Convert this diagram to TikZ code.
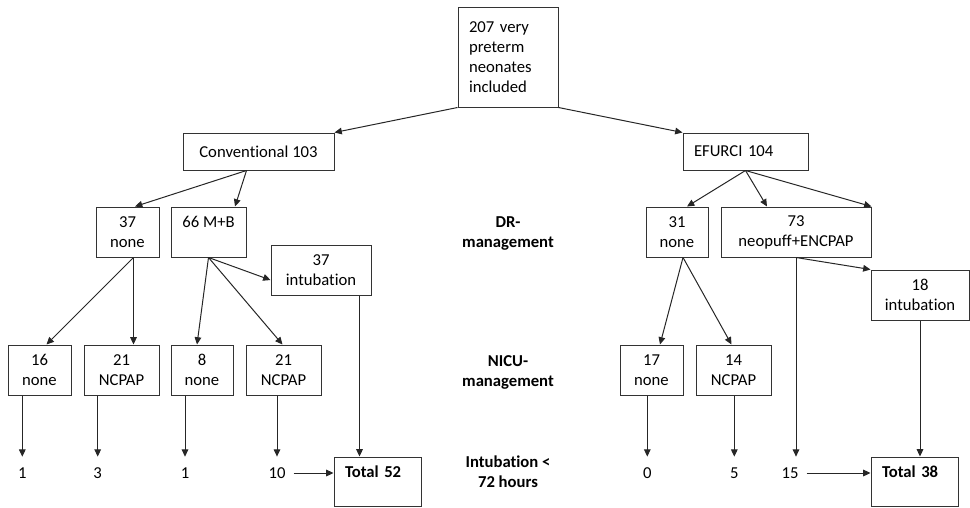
\documentclass[tikz,border=0pt]{standalone}
\usepackage{fontspec}
\setmainfont{Carlito}[Ligatures={NoCommon}]
\usepackage{tikz}
\usetikzlibrary{arrows.meta,positioning,calc}
\newdimen\unitpx \unitpx=0.75pt
\tikzstyle{box}=[rectangle,draw=black!80,line width=0.75pt,inner sep=0pt,
	align=center,font=\fontsize{12.5pt}{15pt}\selectfont]
\tikzstyle{leftbox}=[box,align=left,inner xsep=11\unitpx]
\tikzstyle{num}=[font=\fontsize{12.5pt}{15pt}\selectfont,inner xsep=6pt,inner ysep=8pt]
\tikzstyle{stage}=[font=\fontsize{12.5pt}{15pt}\selectfont\bfseries,align=center]
\tikzstyle{arr}=[-{Triangle[length=5.5pt,width=5pt]},line width=0.75pt,black!85]
\tikzset{dim/.style 2 args={minimum width=#1\unitpx,minimum height=#2\unitpx}}

\begin{document}
\begin{tikzpicture}[x=\unitpx,y=-\unitpx]
	\useasboundingbox (0,0) rectangle (970,507);

	% groups
	\node[leftbox,text width=78\unitpx,minimum height=100\unitpx] (incl) at (508,57) {207 very\\preterm\\neonates\\included};
	\node[box,dim={151}{37}] (conv) at (258.5,151.5) {Conventional 103};
	\node[leftbox,text width=103\unitpx,minimum height=37\unitpx] (efurci) at (745.5,151.5) {EFURCI 104};

	% DR management
	\node[box,dim={63}{50}] (c37none) at (127.5,232) {37\\none};
	\node[box,dim={75}{50}] (c66mb) at (208.5,232) {66 M+B\\\mbox{}};
	\node[box,dim={100}{50}] (c37int) at (321,270) {37\\intubation};
	\node[box,dim={62}{50}] (e31none) at (677,232) {31\\none};
	\node[box,dim={150}{50}] (e73) at (796,232) {73\\neopuff+ENCPAP};
	\node[box,dim={98}{50}] (e18int) at (920,295) {18\\intubation};

	% NICU management
	\node[box,dim={63}{50}] (c16none) at (39.5,370) {16\\none};
	\node[box,dim={75}{50}] (c21ncpap) at (121.5,370) {21\\NCPAP};
	\node[box,dim={62}{50}] (c8none) at (202,370) {8\\none};
	\node[box,dim={75}{50}] (c21ncpapb) at (283.5,370) {21\\NCPAP};
	\node[box,dim={63}{50}] (e17none) at (651.5,370) {17\\none};
	\node[box,dim={75}{50}] (e14ncpap) at (733.5,370) {14\\NCPAP};

	% intubation < 72 hours
	\node[num] (r1) at (22.3,473) {1};
	\node[num] (r3) at (97.7,473) {3};
	\node[num] (r1b) at (185,473) {1};
	\node[num] (r10) at (277,473) {10};
	\node[num] (r0) at (647.3,473) {0};
	\node[num] (r5) at (734.3,473) {5};
	\node[num] (r15) at (790,473) {15};
	\node[leftbox,text width=65\unitpx,minimum height=49\unitpx] (ctotal) at (377.5,481.5) {\textbf{Total 52}\\\mbox{}};
	\node[leftbox,text width=65\unitpx,minimum height=49\unitpx] (etotal) at (914.5,481.5) {\textbf{Total 38}\\\mbox{}};

	\node[stage] (dr) at (508,234) {DR-\\management};
	\node[stage] (nicu) at (508,372) {NICU-\\management};
	\node[stage] (intub) at (508,472) {Intubation <\\72 hours};

	\draw[arr] (incl.south west) -- (conv.north east);
	\draw[arr] (incl.south east) -- (efurci.north west);

	\coordinate (convout) at ($(conv.south)+(-12,0)$);
	\draw[arr] (convout) -- ($(c37none.north)+(7.5,0)$);
	\draw[arr] (convout) -- ($(c66mb.north)+(26.5,0)$);
	\coordinate (noneout) at ($(c37none.south)+(6,0)$);
	\draw[arr] (noneout) -- ($(c16none.north)+(7,0)$);
	\draw[arr] (noneout) -- ($(c21ncpap.north)+(12,0)$);
	\draw[arr] (c66mb.south) -- ($(c8none.north)+(-5,0)$);
	\draw[arr] (c66mb.south) -- ($(c21ncpapb.north)+(-1,0)$);
	\draw[arr] (c66mb.south) -- ($(c37int.west)+(0,10)$);
	\coordinate (intdrop) at ($(c37int.south east)+(-12,0)$);
	\draw[arr] (intdrop) -- (intdrop |- ctotal.north);

	\draw[arr] (r1 |- c16none.south) -- (r1.north);
	\draw[arr] (r3 |- c21ncpap.south) -- (r3.north);
	\draw[arr] (r1b |- c8none.south) -- (r1b.north);
	\draw[arr] (r10 |- c21ncpapb.south) -- (r10.north);
	\draw[arr] (r10.east) -- (r10.east -| ctotal.west);

	\draw[arr] (efurci.south) -- ($(e31none.north)+(10,0)$);
	\draw[arr] (efurci.south) -- ($(e73.north)+(-29,0)$);
	\draw[arr] (efurci.south) -- (e73.north east);
	\coordinate (e31out) at ($(e31none.south)+(6,0)$);
	\draw[arr] (e31out) -- ($(e17none.north)+(8.5,0)$);
	\draw[arr] (e31out) -- ($(e14ncpap.north)+(-2,0)$);
	\draw[arr] (e73.south) -- (e18int.north west);
	\draw[arr] (e73.south) -- (e73.south |- r15.north);
	\draw[arr] (e18int.south) -- (e18int.south |- etotal.north);

	\draw[arr] (r0 |- e17none.south) -- (r0.north);
	\draw[arr] (r5 |- e14ncpap.south) -- (r5.north);
	\draw[arr] (r15.east) -- (r15.east -| etotal.west);
\end{tikzpicture}
\end{document}
